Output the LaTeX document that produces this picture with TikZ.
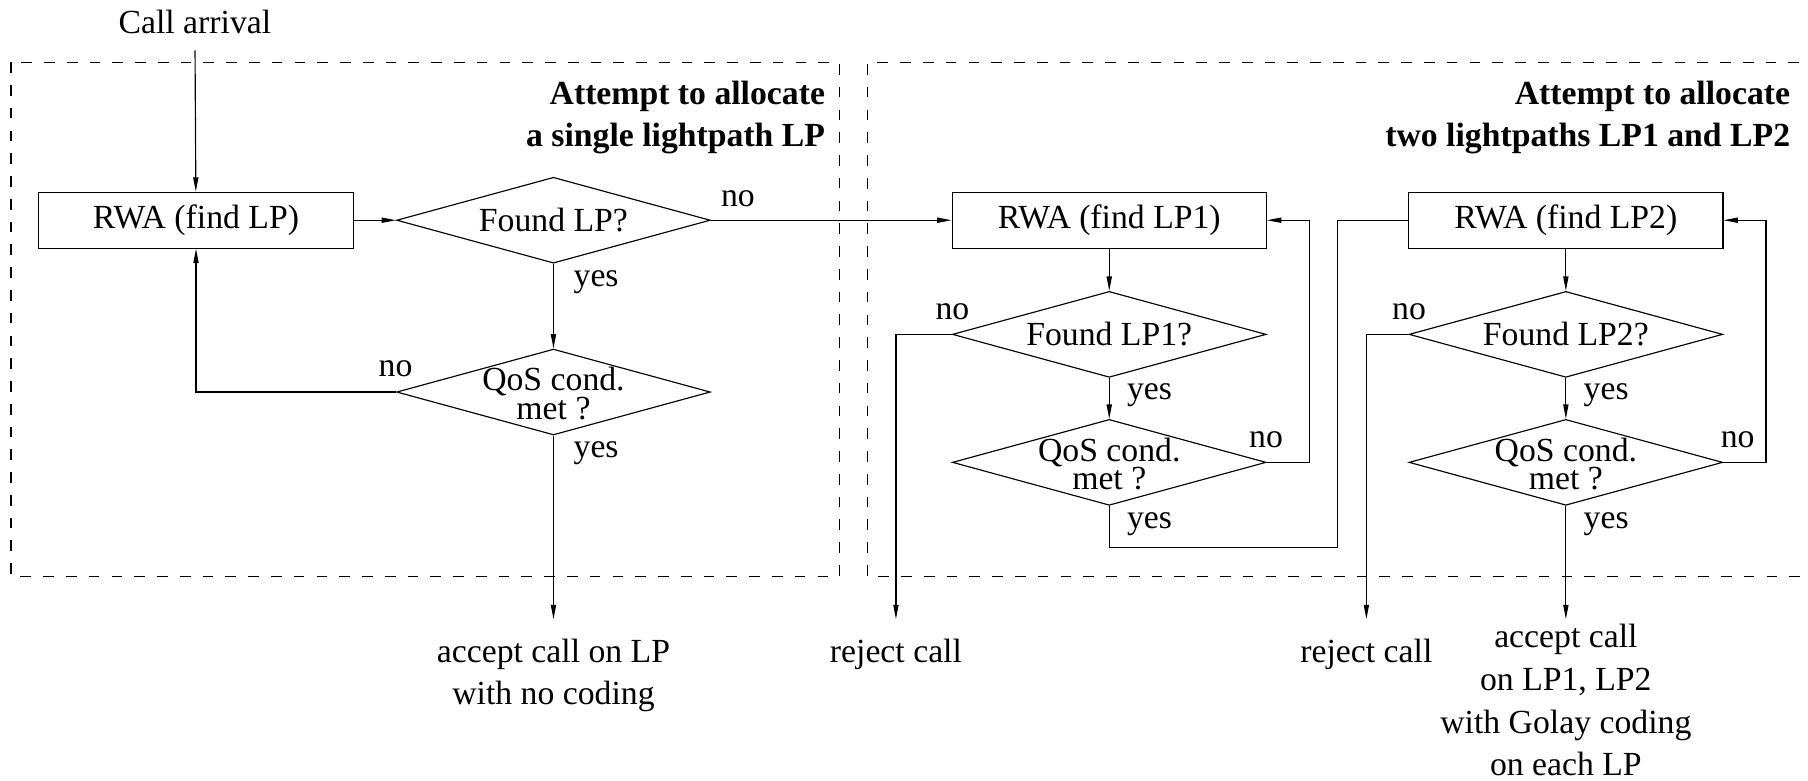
\documentclass[tikz,border=0pt]{standalone}
\usepackage{fontspec}
\setmainfont{Liberation Serif}
\usetikzlibrary{arrows.meta, positioning, shapes.geometric}

\begin{document}
\begin{tikzpicture}[
        x=0.4pt, y=-0.4pt,
        font=\fontsize{11.7}{14.8}\selectfont,
        line width=0.4pt,
        processBox/.style={
            draw,
            rectangle,
            minimum width=109pt,
            minimum height=19.4pt,
            inner sep=0pt
        },
        decisionBox/.style={
            draw,
            diamond,
            minimum width=108.8pt,
            minimum height=29.8pt,
            inner sep=0pt
        },
        questionText/.style={
            align=center,
            inner sep=0pt
        },
        branchLabel/.style={
            inner sep=0pt
        },
        outcomeText/.style={
            align=center,
            anchor=north,
            inner xsep=0pt
        },
        groupTitle/.style={
            font=\fontsize{11.7}{14.8}\selectfont\bfseries,
            align=right,
            anchor=east,
            inner sep=0pt
        },
        groupFrame/.style={
            draw,
            dash pattern=on 3.7pt off 4.2pt
        },
        flowArrow/.style={
            -{Triangle[length=5pt, width=1.8pt]}
        }
    ]

        \useasboundingbox (0,0) rectangle (1568,677);

        % Dashed frames
        \draw[groupFrame] (9.5,54) rectangle (728,500);
        \draw[groupFrame] (1580,54) -- (752,54) -- (752,500) -- (1580,500);

        \node[groupTitle] (titleSingle) at (716,102) {Attempt to allocate\\a single lightpath LP};
        \node[groupTitle] (titleTwo) at (1553,102) {Attempt to allocate\\two lightpaths LP1 and LP2};

        % Single lightpath
        \node[inner xsep=0pt, inner ysep=5.6pt] (arrival) at (169,19) {Call arrival};
        \node[processBox] (rwa) at (170,191) {RWA (find LP)};
        \node[decisionBox,
            label={[questionText]center:Found LP?}] (found) at (480,191) {};
        \node[decisionBox,
            label={[questionText, yshift=-0.6pt]center:QoS cond.\\[-4.8pt]met ?}] (qos) at (480,340) {};
        \node[outcomeText, inner ysep=6.6pt] (accept) at (480,537) {accept call on LP\\with no coding};

        % Two lightpaths
        \node[processBox] (rwaA) at (962,191) {RWA (find LP1)};
        \node[decisionBox,
            label={[questionText]center:Found LP1?}] (foundA) at (962,290) {};
        \node[decisionBox,
            label={[questionText, yshift=-0.6pt]center:QoS cond.\\[-4.8pt]met ?}] (qosA) at (962,401) {};
        \node[outcomeText, inner ysep=6.6pt] (rejectA) at (777,537) {reject call};

        \node[processBox] (rwaB) at (1358,191) {RWA (find LP2)};
        \node[decisionBox,
            label={[questionText]center:Found LP2?}] (foundB) at (1358,290) {};
        \node[decisionBox,
            label={[questionText, yshift=-0.6pt]center:QoS cond.\\[-4.8pt]met ?}] (qosB) at (1358,401) {};
        \node[outcomeText, inner ysep=6.6pt] (rejectB) at (1185,537) {reject call};
        \node[outcomeText, inner ysep=1.6pt] (acceptB) at (1358,537) {accept call\\on LP1, LP2\\with Golay coding\\on each LP};

        \coordinate (handover) at (1160,475);

        % Branch labels
        \node[branchLabel] (noFound) at (640,172) {no};
        \node[branchLabel] (yesFound) at (517,245) {yes};
        \node[branchLabel] (noQos) at (343,320) {no};
        \node[branchLabel] (yesQos) at (517,393) {yes};
        \node[branchLabel] (noFoundA) at (826,270) {no};
        \node[branchLabel] (yesFoundA) at (997,343) {yes};
        \node[branchLabel] (noQosA) at (1098,381) {no};
        \node[branchLabel] (yesQosA) at (997,455) {yes};
        \node[branchLabel] (noFoundB) at (1222,270) {no};
        \node[branchLabel] (yesFoundB) at (1393,343) {yes};
        \node[branchLabel] (noQosB) at (1507,381) {no};
        \node[branchLabel] (yesQosB) at (1393,455) {yes};

        % Connectors
        \draw[flowArrow] (arrival) -- (rwa);
        \draw[flowArrow] (rwa) -- (found);
        \draw[flowArrow] (found) -- (qos);
        \draw[flowArrow] (found.east) -- (rwaA.west);
        \draw[flowArrow] (qos.west) -| (rwa.south);
        \draw[flowArrow] (qos.south) -- (accept.north);

        \draw[flowArrow] (rwaA) -- (foundA);
        \draw[flowArrow] (foundA) -- (qosA);
        \draw[flowArrow] (foundA.west) -| (rejectA.north);
        \draw[flowArrow] (qosA.east) -- ++(37,0) |- (rwaA.east);
        \draw (qosA.south) |- (handover) |- (rwaB.west);

        \draw[flowArrow] (rwaB) -- (foundB);
        \draw[flowArrow] (foundB) -- (qosB);
        \draw[flowArrow] (foundB.west) -| (rejectB.north);
        \draw[flowArrow] (qosB.east) -- ++(37,0) |- (rwaB.east);
        \draw[flowArrow] (qosB.south) -- (acceptB.north);

    \end{tikzpicture}
\end{document}
